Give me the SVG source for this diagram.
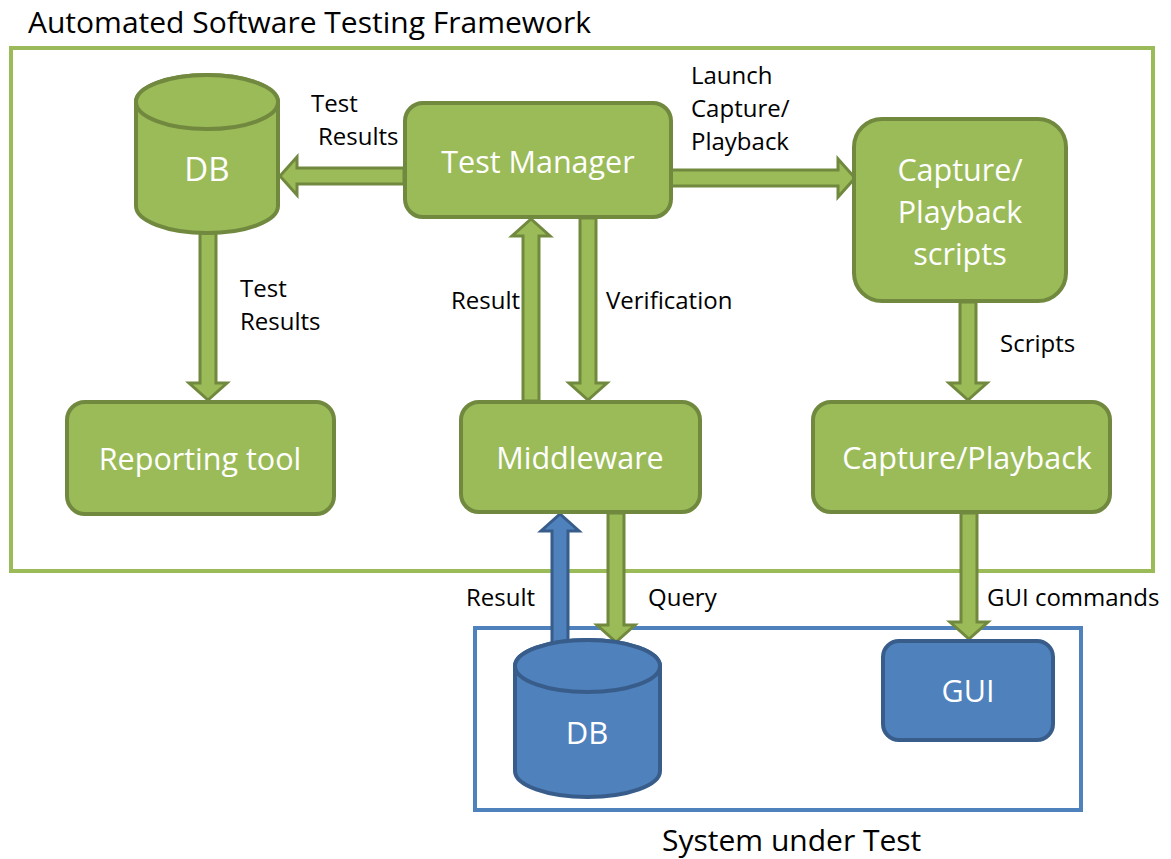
<svg xmlns="http://www.w3.org/2000/svg" width="1171" height="859" viewBox="0 0 1171 859">
  <style>
    .frame-g { fill: none; stroke: #9bbb59; stroke-width: 4; }
    .frame-b { fill: none; stroke: #4f81bd; stroke-width: 4; }
    .gnode { fill: #9bbb59; stroke: #71893f; stroke-width: 4; }
    .bnode { fill: #4f81bd; stroke: #385d8a; stroke-width: 4; }
    .garrow { fill: #9bbb59; stroke: #71893f; stroke-width: 3; stroke-linejoin: miter; }
    .barrow { fill: #4f81bd; stroke: #385d8a; stroke-width: 3; stroke-linejoin: miter; }
    .ntext { font-family: "Open Sans", "Liberation Sans", sans-serif; fill: #ffffff; font-size: 30.5px; text-anchor: middle; }
    .label { font-family: "Open Sans", "Liberation Sans", sans-serif; fill: #000000; font-size: 24px; }
    .title { font-family: "Open Sans", "Liberation Sans", sans-serif; fill: #000000; font-size: 30px; }
  </style>

  <rect width="1171" height="859" fill="#ffffff"/>

  <!-- Framework and system boundaries -->
  <g id="framework-frame">
    <rect class="frame-g" x="11" y="48" width="1142" height="523"/>
    <text class="title" x="28" y="33">Automated Software Testing Framework</text>
  </g>
  <g id="sut-frame">
    <rect class="frame-b" x="475" y="628" width="606" height="182"/>
    <text class="title" x="662" y="851">System under Test</text>
  </g>

  <!-- Block arrows -->
  <g id="connectors">
    <!-- Test Manager -> DB -->
    <polygon class="garrow" points="404,168 297,168 297,157 280,176 297,195 297,184 404,184"/>
    <!-- Test Manager -> Capture/Playback scripts -->
    <polygon class="garrow" points="671,170 838,170 838,159 855,178 838,197 838,186 671,186"/>
    <!-- DB -> Reporting tool -->
    <polygon class="garrow" points="200,233 216,233 216,383 227,383 208,400 189,383 200,383"/>
    <!-- Middleware -> Test Manager -->
    <polygon class="garrow" points="523,401 523,236 512,236 531,219 550,236 539,236 539,401"/>
    <!-- Test Manager -> Middleware -->
    <polygon class="garrow" points="580,218 596,218 596,383 607,383 588,400 569,383 580,383"/>
    <!-- DB (system) -> Middleware -->
    <polygon class="barrow" points="552,650 552,531 541,531 560,514 579,531 568,531 568,650"/>
    <!-- Middleware -> DB (system) -->
    <polygon class="garrow" points="608,513 624,513 624,625 635,625 616,642 597,625 608,625"/>
    <!-- Capture/Playback scripts -> Capture/Playback -->
    <polygon class="garrow" points="960,302 976,302 976,383 987,383 968,400 949,383 960,383"/>
    <!-- Capture/Playback -> GUI -->
    <polygon class="garrow" points="961,513 977,513 977,622 988,622 969,639 950,622 961,622"/>

    <text class="label" x="311" y="112">Test</text>
    <text class="label" x="318" y="145">Results</text>
    <text class="label" x="691" y="84">Launch</text>
    <text class="label" x="691" y="117">Capture/</text>
    <text class="label" x="691" y="150">Playback</text>
    <text class="label" x="240" y="297">Test</text>
    <text class="label" x="240" y="330">Results</text>
    <text class="label" x="451" y="309">Result</text>
    <text class="label" x="606" y="309">Verification</text>
    <text class="label" x="1000" y="352">Scripts</text>
    <text class="label" x="466" y="606">Result</text>
    <text class="label" x="648" y="606">Query</text>
    <text class="label" x="987" y="606">GUI commands</text>
  </g>

  <!-- Nodes -->
  <g id="db-results">
    <path class="gnode" d="M136,102 L136,206 A71,27 0 0 0 278,206 L278,102 A71,27 0 0 0 136,102 Z"/>
    <ellipse class="gnode" cx="207" cy="102" rx="71" ry="27"/>
    <text class="ntext" x="207" y="181" style="font-size:33px">DB</text>
  </g>

  <g id="test-manager">
    <rect class="gnode" x="405" y="103" width="266" height="114" rx="18"/>
    <text class="ntext" x="538" y="173">Test Manager</text>
  </g>

  <g id="capture-scripts">
    <rect class="gnode" x="854" y="119" width="212" height="182" rx="28"/>
    <text class="ntext" x="960" y="181">Capture/</text>
    <text class="ntext" x="960" y="223">Playback</text>
    <text class="ntext" x="960" y="265">scripts</text>
  </g>

  <g id="reporting-tool">
    <rect class="gnode" x="67" y="402" width="267" height="112" rx="18"/>
    <text class="ntext" x="200" y="470">Reporting tool</text>
  </g>

  <g id="middleware">
    <rect class="gnode" x="461" y="402" width="239" height="110" rx="18"/>
    <text class="ntext" x="580" y="469">Middleware</text>
  </g>

  <g id="capture-playback">
    <rect class="gnode" x="813" y="402" width="297" height="110" rx="18"/>
    <text class="ntext" x="967" y="469">Capture/Playback</text>
  </g>

  <g id="db-system">
    <path class="bnode" d="M515,666 L515,771 A72.5,26 0 0 0 660,771 L660,666 A72.5,26 0 0 0 515,666 Z"/>
    <ellipse class="bnode" cx="587.5" cy="666" rx="72.5" ry="26"/>
    <text class="ntext" x="587" y="744" style="font-size:31px">DB</text>
  </g>

  <g id="gui">
    <rect class="bnode" x="883" y="641" width="170" height="99" rx="16"/>
    <text class="ntext" x="968" y="702">GUI</text>
  </g>
</svg>
